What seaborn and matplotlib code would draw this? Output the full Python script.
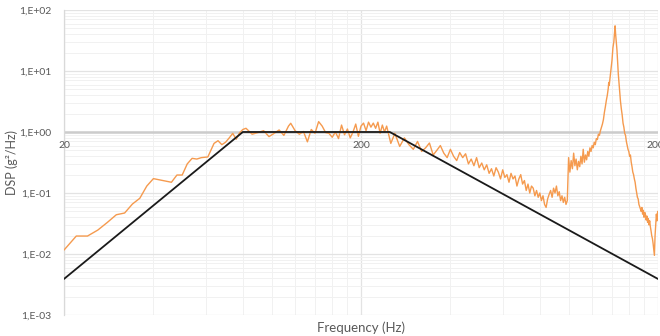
import matplotlib
matplotlib.use("Agg")
import matplotlib.pyplot as plt
import matplotlib.ticker as mticker
import matplotlib.transforms as mtrans
import pandas as pd
import seaborn as sns

# ---------------- data ----------------
freq_low = [20, 22, 24, 26, 28, 30, 32, 34, 36, 38, 40, 43, 46, 48, 50, 52, 54, 56, 58,
            61, 64, 66, 68, 70, 72, 74, 76, 78, 80]
psd_low = [0.0116, 0.0197, 0.0197, 0.0247, 0.033, 0.044, 0.047, 0.066, 0.082, 0.13, 0.172,
           0.16, 0.15, 0.197, 0.197, 0.30, 0.37, 0.36, 0.38, 0.39, 0.65, 0.72, 0.62, 0.68,
           0.80, 0.95, 0.76, 0.97, 1.1]

freq_flat = [82, 86, 90, 94, 98, 102, 106, 110, 114, 116, 120, 124, 128, 132, 136, 140, 144,
             148, 152, 156, 160, 164, 168, 172, 176, 180, 184, 188, 192, 196, 200, 204, 208,
             212, 216, 220, 224, 228, 232, 236, 240, 244, 248, 252]
psd_flat = [1.15, 0.92, 0.98, 1.05, 0.84, 0.95, 1.08, 0.88, 1.25, 1.39, 1.05, 0.92, 1.02, 0.69,
            1.1, 0.95, 1.48, 1.25, 0.98, 0.95, 0.82, 1.0, 0.78, 1.3, 0.9, 1.12, 0.8, 1.0, 1.35,
            0.85, 1.25, 1.4, 1.05, 1.45, 1.2, 1.4, 1.15, 1.45, 0.95, 1.3, 1.0, 1.25, 0.9, 0.65]

freq_mid = [260, 270, 280, 290, 300, 310, 320, 330, 340, 350, 360, 370, 380, 390, 400, 410,
            420, 430, 440, 450, 460, 470, 480, 490, 500, 510, 520, 530, 540, 550, 560, 570,
            580, 590, 600, 610, 620, 630, 640, 650, 660, 670, 680, 690, 700, 710, 720, 730,
            740, 750, 760, 770, 780, 790, 800, 810, 820, 830, 840, 850, 860, 870, 880, 890,
            900, 910, 920, 930, 940, 950, 960, 970, 980, 990]
psd_mid = [0.95, 0.58, 0.80, 0.62, 0.52, 0.70, 0.48, 0.55, 0.66, 0.42, 0.50, 0.60, 0.45, 0.38,
           0.52, 0.40, 0.34, 0.46, 0.38, 0.44, 0.30, 0.36, 0.28, 0.38, 0.26, 0.31, 0.24, 0.29,
           0.21, 0.25, 0.19, 0.26, 0.22, 0.17, 0.24, 0.18, 0.20, 0.15, 0.21, 0.17, 0.19, 0.13,
           0.17, 0.20, 0.14, 0.16, 0.11, 0.14, 0.10, 0.13, 0.12, 0.09, 0.11, 0.085, 0.10, 0.075,
           0.09, 0.065, 0.058, 0.08, 0.095, 0.11, 0.085, 0.12, 0.10, 0.13, 0.09, 0.105, 0.075,
           0.09, 0.07, 0.085, 0.065, 0.075]

freq_high = [1000, 1010, 1020, 1030, 1040, 1050, 1060, 1070, 1080, 1090, 1100, 1110, 1120,
             1130, 1140, 1150, 1160, 1170, 1180, 1190, 1200, 1210, 1220, 1230, 1240, 1250,
             1260, 1270, 1280, 1290, 1300, 1310, 1320, 1330, 1340, 1350, 1360, 1365, 1370,
             1380, 1390, 1400, 1410, 1420, 1428, 1434, 1440, 1447, 1455, 1462, 1470, 1478,
             1486, 1495, 1505, 1515, 1525, 1535, 1545, 1555, 1565, 1575, 1585, 1595, 1605,
             1615, 1625, 1635, 1645, 1655, 1665, 1675, 1685, 1695, 1705, 1715, 1725, 1735,
             1745, 1755, 1765, 1775, 1785, 1795, 1805, 1815, 1825, 1835, 1845, 1855, 1865,
             1875, 1885, 1895, 1905, 1915, 1925, 1935, 1945, 1955, 1965, 1975, 1985, 1995, 2000]
psd_high = [0.38, 0.22, 0.34, 0.25, 0.45, 0.28, 0.36, 0.24, 0.33, 0.27, 0.40, 0.30, 0.52, 0.32,
            0.42, 0.35, 0.48, 0.40, 0.55, 0.48, 0.60, 0.55, 0.68, 0.62, 0.78, 0.75, 0.92, 0.88,
            1.05, 1.2, 1.35, 1.6, 2.1, 2.6, 3.3, 4.0, 5.2, 6.5, 5.8, 8.0, 11, 15, 24, 30, 42, 55,
            40, 30, 22, 14, 9, 6.5, 4.5, 3.2, 2.4, 1.9, 1.4, 1.2, 0.95, 0.88, 0.7, 0.6, 0.52,
            0.48, 0.40, 0.42, 0.32, 0.27, 0.22, 0.20, 0.17, 0.15, 0.12, 0.10, 0.085, 0.08, 0.065,
            0.06, 0.055, 0.05, 0.058, 0.045, 0.052, 0.04, 0.048, 0.044, 0.036, 0.042, 0.033,
            0.038, 0.03, 0.035, 0.028, 0.024, 0.02, 0.018, 0.015, 0.012, 0.0095, 0.02, 0.03,
            0.045, 0.035, 0.05, 0.04]

freq_spec = [20, 80, 250, 2000]
psd_spec = [0.0039, 1.0, 1.0, 0.0039]

y_ticks = [1e-3, 1e-2, 1e-1, 1e0, 1e1, 1e2]
y_tick_labels = ["1,E-03", "1,E-02", "1,E-01", "1,E+00", "1,E+01", "1,E+02"]
x_ticks = [20, 200, 2000]
x_tick_labels = ["20", "200", "2000"]

meas = pd.DataFrame({
    "f": freq_low + freq_flat + freq_mid + freq_high,
    "psd": psd_low + psd_flat + psd_mid + psd_high,
})
spec = pd.DataFrame({"f": freq_spec, "psd": psd_spec})

# ---------------- style ----------------
sns.set_style("white")
plt.rcParams["font.family"] = ["Lato", "DejaVu Sans"]

fig = plt.figure(figsize=(6.6, 3.36), dpi=100)
ax = fig.add_axes([64 / 660, 21 / 336, 594 / 660, 305 / 336])

ax.set_xscale("log")
ax.set_yscale("log")
ax.set_xlim(20, 2000)
ax.set_ylim(1e-3, 1e2)

# gridlines (Excel-like log axis starting at 20)
x_minor = [40, 60, 80, 100, 120, 140, 160, 180, 400, 600, 800, 1000, 1200, 1400, 1600, 1800]
ax.xaxis.set_major_locator(mticker.FixedLocator(x_ticks))
ax.xaxis.set_minor_locator(mticker.FixedLocator(x_minor))
ax.yaxis.set_major_locator(mticker.FixedLocator(y_ticks))
ax.yaxis.set_minor_locator(mticker.LogLocator(base=10, subs=[2, 3, 4, 5, 6, 7, 8, 9], numticks=20))
ax.yaxis.set_minor_formatter(mticker.NullFormatter())
ax.xaxis.set_minor_formatter(mticker.NullFormatter())

ax.grid(which="major", color="#e3e3e3", lw=0.9, zorder=0)
ax.grid(which="minor", color="#f1f1f1", lw=0.7, zorder=0)
ax.set_axisbelow(True)
ax.axhline(1.0, color="#cccccc", lw=1.8, zorder=1)

sns.lineplot(data=meas, x="f", y="psd", ax=ax, color="#f59a4e", lw=1.0,
             estimator=None, sort=False, zorder=3)
sns.lineplot(data=spec, x="f", y="psd", ax=ax, color="#1a1a1a", lw=1.3,
             estimator=None, sort=False, zorder=4)

ax.set_yticklabels(y_tick_labels)
ax.set_xticklabels([])
ax.tick_params(axis="both", which="both", length=0)
ax.tick_params(axis="y", labelsize=7.5, labelcolor="#595959", pad=9)

for sp in ["top", "right", "bottom"]:
    ax.spines[sp].set_visible(False)
ax.spines["left"].set_color("#d9d9d9")
ax.spines["left"].set_linewidth(0.9)

# x tick labels at the horizontal axis crossing (y = 1)
off = mtrans.offset_copy(ax.transData, fig=fig, x=0, y=-9.5, units="points")
for f, lab in zip(x_ticks, x_tick_labels):
    ax.text(f, 1.0, lab, transform=off, ha="center", va="center",
            fontsize=7.5, color="#595959", clip_on=False)

ax.set_xlabel("Frequency (Hz)", fontsize=9.5, color="#595959", labelpad=1)
ax.set_ylabel("DSP (g²/Hz)", fontsize=9, color="#595959")
ax.yaxis.set_label_coords(-0.077, 0.5)

fig.savefig("out.png", dpi=100)
